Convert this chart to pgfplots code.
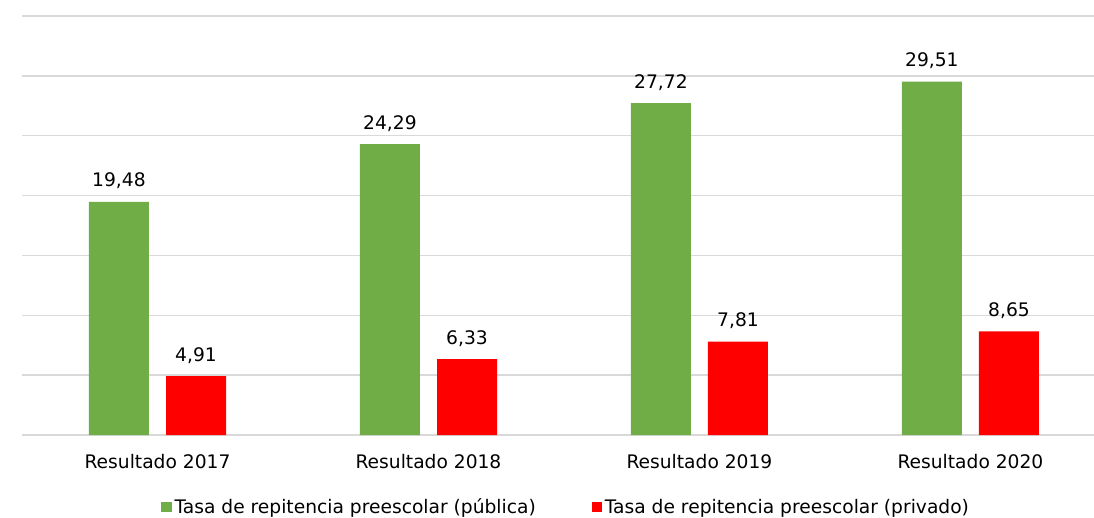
\documentclass[border=0pt]{standalone}
\usepackage{pgfplots}
\pgfplotsset{compat=1.18}
\usepackage{fontspec}
\setmainfont{DejaVu Sans}
\definecolor{gverde}{HTML}{70AD47}
\definecolor{grojo}{HTML}{FF0000}
\definecolor{gridgray}{HTML}{D9D9D9}
\begin{document}
\begin{tikzpicture}
\begin{axis}[
  scale only axis,
  width=804pt, height=314.25pt,
  xmin=-0.5, xmax=3.456,
  ymin=0, ymax=35,
  ytick={0,5,...,35},
  yticklabels={},
  xmajorgrids=false,
  ymajorgrids=true,
  major grid style={draw=gridgray, line width=1pt},
  axis line style={draw=none},
  major tick length=0pt,
  xtick={0,1,2,3},
  xticklabels={Resultado 2017,Resultado 2018,Resultado 2019,Resultado 2020},
  xticklabel style={anchor=base, yshift=-24.75pt, font=\fontsize{14}{16.8}\selectfont},
  ybar, bar width=45pt,
  nodes near coords,
  nodes near coords style={anchor=base, yshift=11.25pt, inner sep=0pt, font=\fontsize{14}{16.8}\selectfont, text=black,
    /pgf/number format/.cd, use comma, fixed, fixed zerofill, precision=2, assume math mode=true},
  legend columns=2,
  legend style={draw=none, at={(0.508,-0.172)}, anchor=center,
    font=\fontsize{14}{16.8}\selectfont,
    /tikz/every even column/.append style={column sep=40pt},
    inner sep=0pt},
  legend image code/.code={\fill[#1] (0pt,-3.9pt) rectangle (7.8pt,3.9pt);},
  clip=false,
]
\addplot[fill=gverde, draw=none, bar shift=-28.9pt] coordinates {(0,19.48) (1,24.29) (2,27.72) (3,29.51)};
\addlegendentry{Tasa de repitencia preescolar (pública)}
\addplot[fill=grojo, draw=none, bar shift=28.9pt] coordinates {(0,4.91) (1,6.33) (2,7.81) (3,8.65)};
\addlegendentry{Tasa de repitencia preescolar (privado)}
\end{axis}
\pgfresetboundingbox
\path ([shift={(-16.5pt,-61.5pt)}]current axis.south west) rectangle ([shift={(0pt,12pt)}]current axis.north east);
\end{tikzpicture}
\end{document}
